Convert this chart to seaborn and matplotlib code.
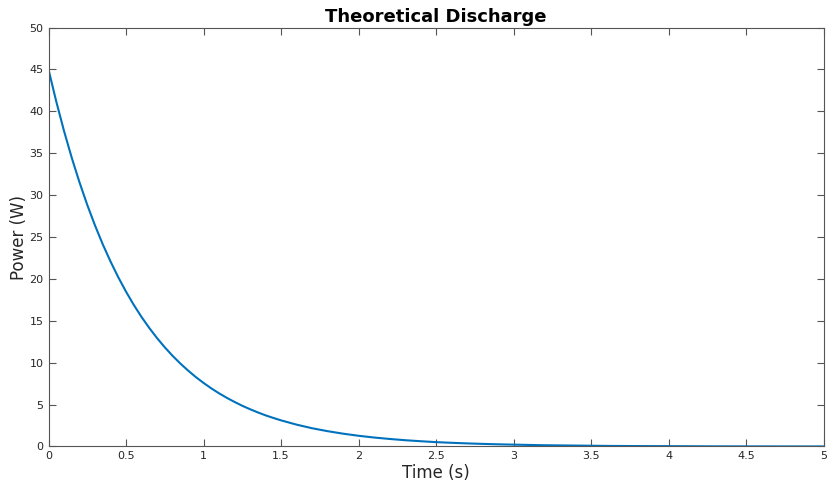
import numpy as np
import pandas as pd
import matplotlib
matplotlib.use('Agg')
import matplotlib.pyplot as plt
import seaborn as sns

# values
time_s = [0, 0.05, 0.1, 0.15, 0.2, 0.25, 0.3, 0.35, 0.4, 0.45, 0.5,
          0.55, 0.6, 0.65, 0.7, 0.75, 0.8, 0.85, 0.9, 0.95, 1.0,
          1.05, 1.1, 1.15, 1.2, 1.25, 1.3, 1.35, 1.4, 1.45, 1.5,
          1.6, 1.7, 1.8, 1.9, 2.0, 2.1, 2.2, 2.3, 2.4, 2.5,
          2.6, 2.7, 2.8, 2.9, 3.0, 3.2, 3.4, 3.6, 3.8, 4.0,
          4.25, 4.5, 4.75, 5.0]
power_w = [45, 41.17, 37.66, 34.45, 31.52, 28.83, 26.38, 24.13, 22.08, 20.20, 18.48,
           16.90, 15.46, 14.15, 12.94, 11.84, 10.83, 9.91, 9.07, 8.29, 7.59,
           6.94, 6.35, 5.81, 5.32, 4.86, 4.45, 4.07, 3.72, 3.41, 3.12,
           2.61, 2.18, 1.83, 1.53, 1.28, 1.07, 0.90, 0.75, 0.63, 0.52,
           0.44, 0.37, 0.31, 0.26, 0.22, 0.15, 0.11, 0.07, 0.05, 0.04,
           0.02, 0.015, 0.01, 0.006]
x_ticks = [0, 0.5, 1, 1.5, 2, 2.5, 3, 3.5, 4, 4.5, 5]
x_labels = ['0', '0.5', '1', '1.5', '2', '2.5', '3', '3.5', '4', '4.5', '5']
y_ticks = [0, 5, 10, 15, 20, 25, 30, 35, 40, 45, 50]

df = pd.DataFrame({'time': time_s, 'power': power_w})

sns.set_style('ticks')
plt.rcParams['font.family'] = ['DejaVu Sans']

fig = plt.figure(figsize=(8.28, 4.84), dpi=100)
ax = fig.add_axes([0.0586, 0.0775, 0.936, 0.8655])
sns.lineplot(data=df, x='time', y='power', color='#0072BD', linewidth=1.5, ax=ax)

ax.set_xlim(0, 5)
ax.set_ylim(0, 50)
ax.set_xticks(x_ticks)
ax.set_xticklabels(x_labels)
ax.set_yticks(y_ticks)
ax.tick_params(direction='in', length=5, width=0.8, colors='#555555',
               labelcolor='#262626', labelsize=8, top=True, right=True)
for s in ax.spines.values():
    s.set_color('#555555')
    s.set_linewidth(0.8)

ax.set_xlabel('Time (s)', fontsize=12, color='#262626', labelpad=2)
ax.set_ylabel('Power (W)', fontsize=12, color='#262626', labelpad=1)
ax.set_title('Theoretical Discharge', fontsize=13, fontweight='bold',
             color='black', pad=4)

fig.savefig('out.png', dpi=100)
